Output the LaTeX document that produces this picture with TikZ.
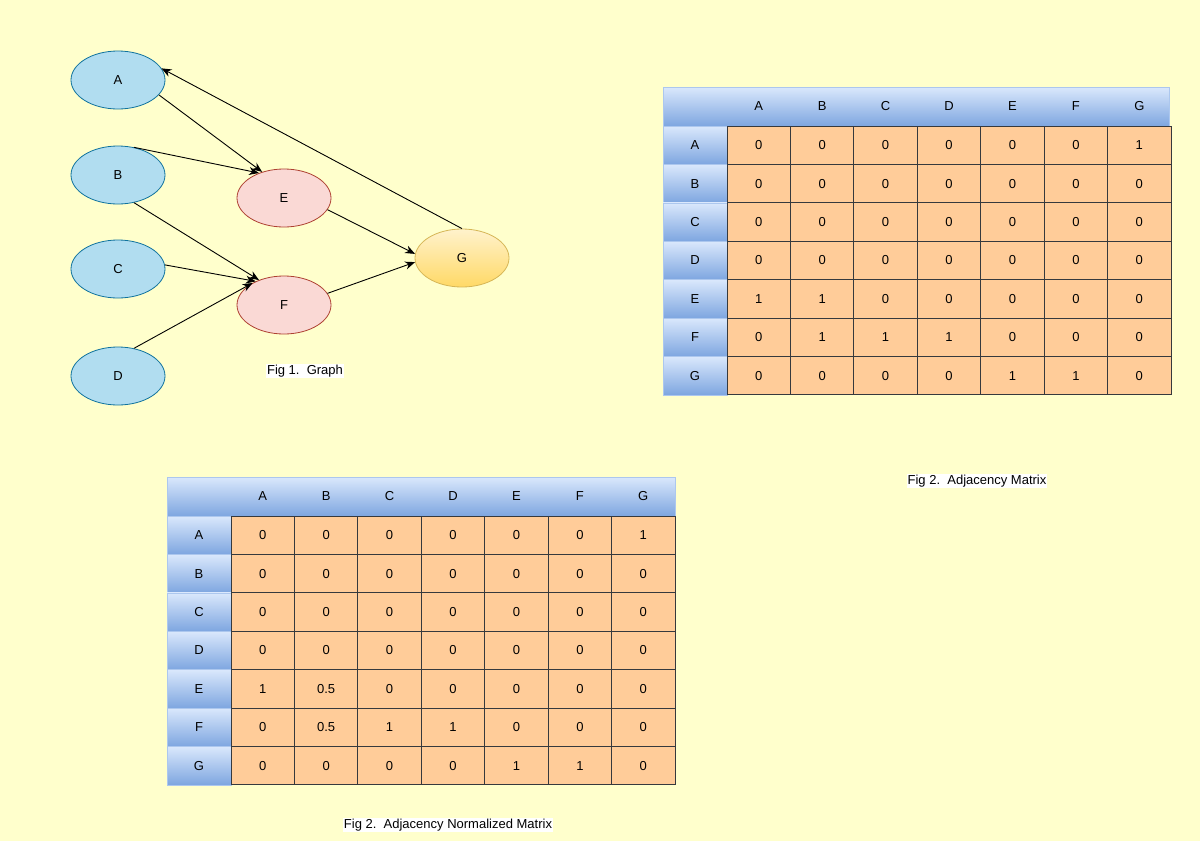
\documentclass[tikz,border=0pt]{standalone}
\usepackage{fontspec}
\setmainfont{Liberation Sans}
\usetikzlibrary{shapes.geometric,arrows.meta}
\definecolor{bg}{RGB}{255,255,204}
\definecolor{bfill}{RGB}{177,221,240}\definecolor{bline}{RGB}{16,115,158}
\definecolor{rfill}{RGB}{250,217,213}\definecolor{rline}{RGB}{174,65,50}
\definecolor{gtop}{RGB}{255,242,204}\definecolor{gbot}{RGB}{255,217,102}\definecolor{gline}{RGB}{214,182,86}
\definecolor{cell}{RGB}{255,204,153}\definecolor{cline}{RGB}{54,57,61}
\definecolor{htop}{RGB}{218,232,252}\definecolor{hbot}{RGB}{126,166,224}
\tikzset{
 x=1pt,y=-1pt,
 every node/.style={font=\fontsize{13}{15}\selectfont},
 nd/.style={ellipse,minimum width=94pt,minimum height=58pt,line width=0.8pt},
 bnode/.style={nd,fill=bfill,draw=bline},
 rnode/.style={nd,fill=rfill,draw=rline},
 gnode/.style={nd,top color=gtop,bottom color=gbot,draw=gline},
 ar/.style={-{Stealth[length=10pt,width=8pt]},line width=0.9pt},
 capt/.style={fill=white,inner sep=1pt},
 cellst/.style={draw=cline,fill=cell,line width=0.8pt,minimum width=#1,minimum height=38.4pt,inner sep=0,anchor=center},
 hd/.style={draw=htop!50!hbot,top color=htop,bottom color=hbot,line width=0.5pt,minimum width=#1,minimum height=38.4pt,inner sep=0},
}
\newcommand\mytbl[6]{% #1 prefix, #2 x0, #3 y0, #4 width, #5 colw, #6 rows
 \shade[top color=htop,bottom color=hbot] (#2,#3) rectangle ++(#4,39);
 \draw[draw=htop!50!hbot,line width=0.5pt] (#2,#3) rectangle ++(#4,39);
 \foreach \c [count=\i] in {A,B,C,D,E,F,G}{
   \node (#1h\c) at ({#2+64+(\i-0.5)*#5},{#3+19.5}) {\c};
 }
 \foreach \r [count=\j] in {#6}{
   \node[hd=64pt] (#1r\j) at ({#2+32},{#3+39+(\j-0.5)*38.4}) {};
   \foreach \v [count=\i] in \r {
     \node[cellst=#5 pt] (#1c\j\i) at ({#2+64+(\i-0.5)*#5},{#3+39+(\j-0.5)*38.4}) {\v};
   }
 }
 \foreach \c [count=\j] in {A,B,C,D,E,F,G}{\node at (#1r\j) {\c};}
}
\begin{document}
\begin{tikzpicture}
\fill[bg] (0,0) rectangle (1200,841);
\useasboundingbox (0,0) rectangle (1200,841);
\node[bnode] (A) at (118,80) {A};
\node[bnode] (B) at (118,175) {B};
\node[bnode] (C) at (118,269) {C};
\node[bnode] (D) at (118,376) {D};
\node[rnode] (E) at (284,198) {E};
\node[rnode] (F) at (284,305) {F};
\node[gnode] (G) at (462,258) {G};
\draw[ar] (A.-20) -- (E.130);
\draw[ar] (B.60) -- (E.135);
\draw[ar] (B.-60) -- (F.135);
\draw[ar] (C.5) -- (F.140);
\draw[ar] (D.60) -- (F.145);
\draw[ar] (E.-15) -- (G.175);
\draw[ar] (F.15) -- (G.185);
\draw[ar] (G.90) -- (A.15);
\node[capt] (f1) at (305,371) {Fig 1.\ \ Graph};
\mytbl{t}{663}{87}{506}{63.43}{{0,0,0,0,0,0,1},{0,0,0,0,0,0,0},{0,0,0,0,0,0,0},{0,0,0,0,0,0,0},{1,1,0,0,0,0,0},{0,1,1,1,0,0,0},{0,0,0,0,1,1,0}}
\node[capt] (f2) at (977,481) {Fig 2.\ \ Adjacency Matrix};
\mytbl{u}{167}{477}{508}{63.43}{{0,0,0,0,0,0,1},{0,0,0,0,0,0,0},{0,0,0,0,0,0,0},{0,0,0,0,0,0,0},{1,0.5,0,0,0,0,0},{0,0.5,1,1,0,0,0},{0,0,0,0,1,1,0}}
\node[capt] (f3) at (448,825) {Fig 2.\ \ Adjacency Normalized Matrix};
\end{tikzpicture}
\end{document}
